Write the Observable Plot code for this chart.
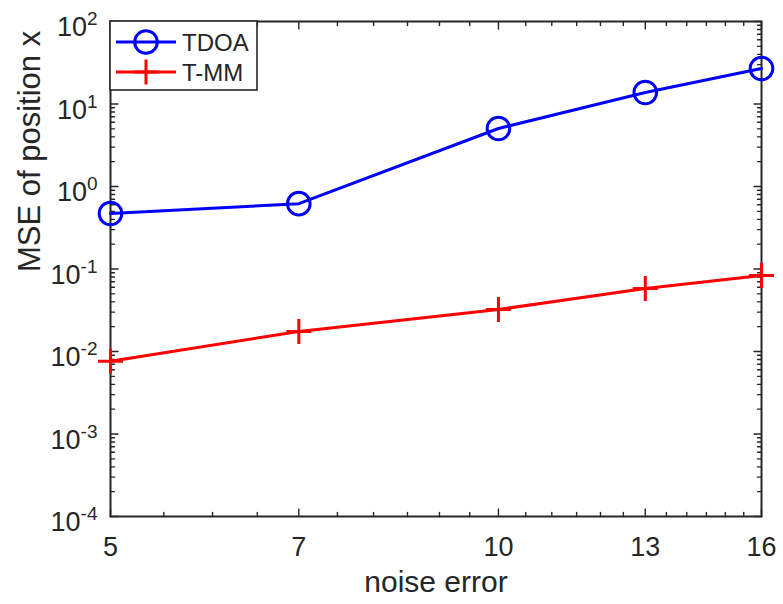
<!DOCTYPE html>
<html>
<head>
<meta charset="utf-8">
<script src="https://cdn.jsdelivr.net/npm/d3@7"></script>
<script src="https://cdn.jsdelivr.net/npm/@observablehq/plot@0.6"></script>
<style>
  html, body { margin: 0; padding: 0; background: #fff; }
  svg { display: block; }
</style>
</head>
<body>
<script>
// ---- data ----
const noise = [5, 7, 10, 13, 16];
const tdoa = [0.47, 0.62, 5.05, 13.8, 26.9];
const tmm = [0.0076, 0.0175, 0.0323, 0.058, 0.0834];
const seriesNames = ["TDOA", "T-MM"];
const seriesColors = ["#0000ff", "#ff0000"];
const xTickValues = [5, 7, 10, 13, 16];
const xMinorValues = [5.5, 6, 6.5, 7.5, 8, 8.5, 9, 9.5, 10.5, 11, 11.5, 12, 12.5, 13.5, 14, 14.5, 15, 15.5];
const yExponents = [-4, -3, -2, -1, 0, 1, 2];
const yMinorMultipliers = [2, 3, 4, 5, 6, 7, 8, 9];
const xLabel = "noise error";
const yLabel = "MSE of position x";

// ---- derived tables ----
const tdoaData = noise.map((x, i) => ({x, y: tdoa[i]}));
const tmmData = noise.map((x, i) => ({x, y: tmm[i]}));
const yTickValues = yExponents.map(e => Math.pow(10, e));
const yMinorValues = [];
yExponents.slice(0, -1).forEach(e => yMinorMultipliers.forEach(m => yMinorValues.push(m * Math.pow(10, e))));

const axisColor = "#262626";
const fontFam = "'Liberation Sans', Arial, Helvetica, sans-serif";
const margins = {left: 110, right: 22, top: 21, bottom: 88};
const W = 783, H = 604;
const LW = 3;

const tickShape = {draw(ctx, l) { ctx.moveTo(0, 0); ctx.lineTo(0, -l); }};
const plusSymbol = {draw(ctx) { const a = 12.5; ctx.moveTo(-a, 0); ctx.lineTo(a, 0); ctx.moveTo(0, -a); ctx.lineTo(0, a); }};

function ticks(values, chan, frameAnchor, rotate, length) {
  const o = {frameAnchor, rotate, length, anchor: "start", shape: tickShape, stroke: axisColor, strokeWidth: 1.4};
  o[chan] = d => d;
  return Plot.vector(values, o);
}

const chart = Plot.plot({
  width: W, height: H,
  marginLeft: margins.left, marginRight: margins.right, marginTop: margins.top, marginBottom: margins.bottom,
  style: {fontFamily: fontFam, background: "#fff", color: axisColor},
  x: {type: "log", domain: [5, 16], axis: null},
  y: {type: "log", domain: [1e-4, 1e2], axis: null},
  marks: [
    // ticks (inward, mirrored on all four sides)
    ticks(xTickValues, "x", "bottom", 0, 7.5),
    ticks(xMinorValues, "x", "bottom", 0, 4),
    ticks(xTickValues, "x", "top", 180, 7.5),
    ticks(xMinorValues, "x", "top", 180, 4),
    ticks(yTickValues, "y", "left", 90, 7.5),
    ticks(yMinorValues, "y", "left", 90, 4),
    ticks(yTickValues, "y", "right", 270, 7.5),
    ticks(yMinorValues, "y", "right", 270, 4),
    Plot.frame({stroke: axisColor, strokeWidth: 2}),
    // data
    Plot.line(tdoaData, {x: "x", y: "y", stroke: seriesColors[0], strokeWidth: LW}),
    Plot.dot(tdoaData, {x: "x", y: "y", r: 11.3, stroke: seriesColors[0], strokeWidth: LW, fill: "none"}),
    Plot.line(tmmData, {x: "x", y: "y", stroke: seriesColors[1], strokeWidth: LW}),
    Plot.dot(tmmData, {x: "x", y: "y", symbol: plusSymbol, stroke: seriesColors[1], strokeWidth: LW, fill: "none"}),
    // tick labels
    Plot.text(xTickValues, {x: d => d, frameAnchor: "bottom", dy: 39, text: d => String(d), fontSize: 27, fill: axisColor}),
    Plot.text(yExponents, {y: d => Math.pow(10, d), frameAnchor: "left", dx: -13, dy: 6, textAnchor: "end",
      text: d => "10^" + d, fontSize: 27, fill: axisColor}),
    // axis labels
    Plot.text([xLabel], {frameAnchor: "bottom", dy: 75, text: d => d, fontSize: 30, fill: axisColor}),
    Plot.text([yLabel], {frameAnchor: "left", dx: -80, dy: 3, rotate: -90, text: d => d, fontSize: 31, fill: axisColor})
  ]
});

// superscript exponents on y tick labels
d3.select(chart).selectAll("text").each(function () {
  const m = /^10\^(-?\d+)$/.exec(this.textContent);
  if (!m) return;
  const t = d3.select(this);
  t.text(null);
  t.append("tspan").text("10");
  t.append("tspan").attr("font-size", 19).attr("dy", -11).text(m[1]);
});

// legend (top-left, inside the axes)
const svg = d3.select(chart);
const lg = svg.append("g").attr("font-family", fontFam).attr("text-anchor", "start");
const lx = margins.left, ly = margins.top;
lg.append("rect").attr("x", lx).attr("y", ly).attr("width", 147).attr("height", 69)
  .attr("fill", "#fff").attr("stroke", axisColor).attr("stroke-width", 1.6);
seriesNames.forEach((name, i) => {
  const cy = ly + 21 + i * 30;
  const c = seriesColors[i];
  lg.append("line").attr("x1", lx + 6).attr("x2", lx + 66).attr("y1", cy).attr("y2", cy)
    .attr("stroke", c).attr("stroke-width", LW);
  if (i === 0) {
    lg.append("circle").attr("cx", lx + 36).attr("cy", cy).attr("r", 11.3)
      .attr("fill", "none").attr("stroke", c).attr("stroke-width", LW);
  } else {
    lg.append("path").attr("d", `M${lx + 23.5},${cy}H${lx + 48.5}M${lx + 36},${cy - 12.5}V${cy + 12.5}`)
      .attr("stroke", c).attr("stroke-width", LW).attr("fill", "none");
  }
  lg.append("text").attr("x", lx + 72).attr("y", cy).attr("dy", "0.36em").attr("text-anchor", "start")
    .attr("font-size", 24).attr("fill", axisColor).text(name);
});

document.body.appendChild(chart);
</script>
</body>
</html>
